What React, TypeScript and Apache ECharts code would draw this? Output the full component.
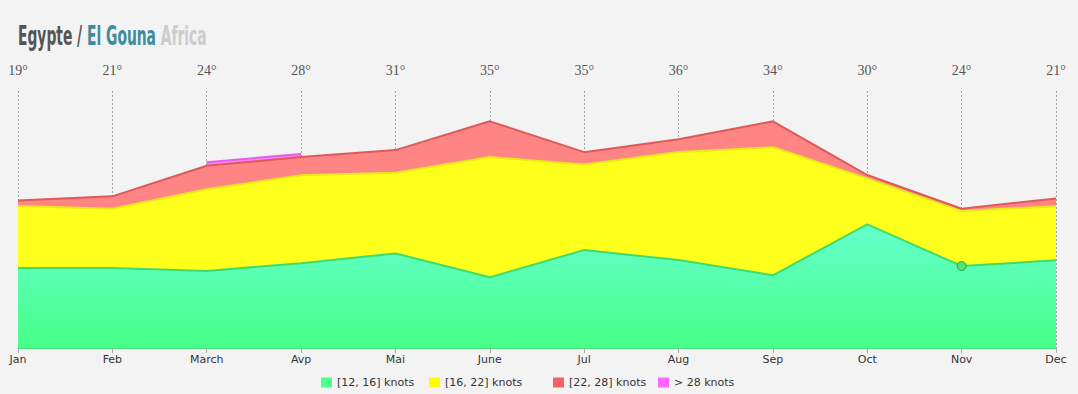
import React, { useEffect, useRef } from "react";
import * as echarts from "echarts";

const months = ["Jan", "Feb", "March", "Avp", "Mai", "June", "Jul", "Aug", "Sep", "Oct", "Nov", "Dec"];
const temps = ["19°", "21°", "24°", "28°", "31°", "35°", "35°", "36°", "34°", "30°", "24°", "21°"];
const knots12to16 = [31.1, 31.1, 30.0, 33.0, 36.8, 27.5, 38.1, 34.2, 28.3, 48.1, 31.9, 34.1];
const knots16to22 = [24.2, 23.1, 31.8, 34.2, 31.4, 46.8, 33.3, 42.1, 49.8, 17.9, 21.4, 21.1];
const knots22to28 = [2.1, 4.8, 9.1, 7.1, 8.8, 13.9, 4.8, 4.9, 10.1, 1.3, 0.9, 3.0];
const knotsOver28: (number | null)[] = [null, null, 1.4, 1.2, null, null, null, null, null, null, null, null];
const seriesNames = ["[12, 16] knots", "[16, 22] knots", "[22, 28] knots", "> 28 knots"];
const legendLefts = [321, 429, 553, 658];
const highlightIndex = 10;

export default function App() {
  const ref = useRef<HTMLDivElement>(null);
  useEffect(() => {
    document.body.style.margin = "0";
    const chart = echarts.init(ref.current!, null, { renderer: "svg" });
    const greenData = knots12to16.map((v, i) =>
      i === highlightIndex
        ? {
            value: v,
            symbol: "circle",
            symbolSize: 9,
            itemStyle: { color: "#4ee374", borderColor: "#2e9e4e", borderWidth: 1 },
          }
        : v
    );
    const base = {
      type: "line",
      stack: "wind",
      symbol: "none",
      showSymbol: true,
      smooth: false,
      silent: true,
    };
    const titleFont = "'DejaVu Sans Condensed', 'Liberation Sans Narrow', sans-serif";
    chart.setOption({
      animation: false,
      backgroundColor: "#f3f3f3",
      graphic: [
        {
          type: "text",
          left: 18,
          top: 22,
          scaleX: 0.57,
          style: {
            text: "{a|Egypte / }{b|El Gouna}{c| Africa}",
            rich: {
              a: { fontSize: 27, fontWeight: "bold", fill: "#555555", fontFamily: titleFont },
              b: { fontSize: 27, fontWeight: "bold", fill: "#3a8c9e", fontFamily: titleFont },
              c: { fontSize: 27, fontWeight: "bold", fill: "#cccccc", fontFamily: titleFont },
            },
          },
        },
      ],
      grid: { left: 18, right: 22, top: 91, bottom: 46, containLabel: false },
      legend: seriesNames.map((name, i) => ({
        left: legendLefts[i],
        top: 377,
        padding: 0,
        itemWidth: 11,
        itemHeight: 10,
        icon: "rect",
        textStyle: { fontSize: 11, color: "#333", fontFamily: "'DejaVu Sans', Verdana, sans-serif" },
        data: [name],
      })),
      xAxis: [
        {
          type: "category",
          data: months,
          boundaryGap: false,
          axisLine: { show: true, lineStyle: { color: "#46e07a", width: 1 } },
          axisTick: { show: true, length: 5, lineStyle: { color: "#aaaaaa" } },
          axisLabel: { margin: 6, fontSize: 11, color: "#333", fontFamily: "'DejaVu Sans', Verdana, sans-serif" },
          splitLine: { show: true, lineStyle: { color: "#a0a0a0", type: [2, 2], width: 1 } },
        },
        {
          type: "category",
          data: temps,
          position: "top",
          boundaryGap: false,
          axisLine: { show: false },
          axisTick: { show: false },
          axisLabel: { margin: 14, fontSize: 14, color: "#555", fontFamily: "'Liberation Serif', 'DejaVu Serif', serif" },
          splitLine: { show: false },
        },
      ],
      yAxis: { type: "value", min: 0, max: 100, show: false },
      series: [
        {
          ...base,
          name: seriesNames[0],
          data: greenData,
          itemStyle: { color: "#4dff8a" },
          lineStyle: { color: "#3edc6e", width: 2 },
          areaStyle: {
            opacity: 1,
            color: new echarts.graphic.LinearGradient(0, 0, 0, 1, [
              { offset: 0, color: "#66ffcc" },
              { offset: 1, color: "#46ff88" },
            ]),
          },
        },
        {
          ...base,
          name: seriesNames[1],
          data: knots16to22,
          itemStyle: { color: "#ffff00" },
          lineStyle: { color: "#e8e81a", width: 2 },
          areaStyle: { opacity: 1, color: "#ffff1c" },
        },
        {
          ...base,
          name: seriesNames[2],
          data: knots22to28,
          itemStyle: { color: "#f46262" },
          lineStyle: { color: "#e05858", width: 2 },
          areaStyle: { opacity: 1, color: "#ff8484" },
        },
        {
          ...base,
          name: seriesNames[3],
          data: knotsOver28,
          connectNulls: false,
          itemStyle: { color: "#ff66ff" },
          lineStyle: { color: "#e060e8", width: 2 },
          areaStyle: { opacity: 1, color: "#ff80ff" },
        },
      ],
    });
    return () => chart.dispose();
  }, []);
  return <div ref={ref} style={{ width: 1078, height: 394 }} />;
}
